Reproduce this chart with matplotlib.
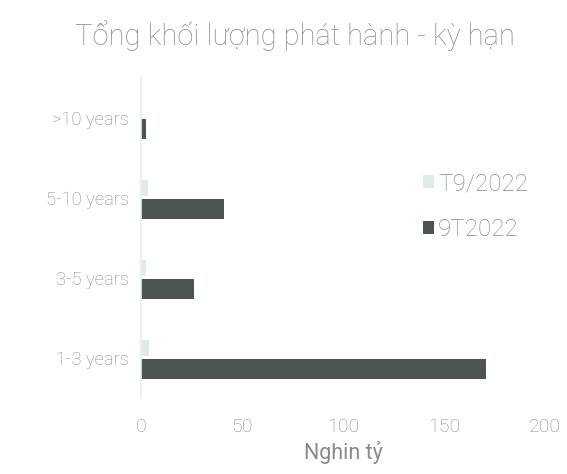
import matplotlib.pyplot as plt
import numpy as np

# Dữ liệu khối lượng phát hành theo kỳ hạn (nghìn tỷ)
ky_han = ["1-3 years", "3-5 years", "5-10 years", ">10 years"]
t9_2022 = [4, 2.5, 3.5, 0]
chin_t_2022 = [171, 26, 41, 2.5]

MAU_CHU = "#8a8a8a"
MAU_NHAT = "#dfeaea"
MAU_DAM = "#4c5455"

plt.rcParams["font.family"] = ["Roboto", "DejaVu Sans"]
plt.rcParams["font.weight"] = "light"

fig = plt.figure(figsize=(5.67, 4.74), dpi=100)
ax = fig.add_axes([0.249, 0.160, 0.712, 0.675])

y = np.arange(len(ky_han))
cao = 0.2
ax.barh(y + 0.13, t9_2022, height=cao, color=MAU_NHAT, label="T9/2022")
ax.barh(y - 0.13, chin_t_2022, height=cao + 0.05, color=MAU_DAM, label="9T2022")

ax.set_xlim(0, 200)
ax.set_ylim(-0.5, 3.5)
ax.set_xticks([0, 50, 100, 150, 200])
ax.set_yticks(y)
ax.set_yticklabels(ky_han)
ax.tick_params(axis="both", length=0, colors=MAU_CHU)
ax.tick_params(axis="x", pad=14, labelsize=14)
ax.tick_params(axis="y", pad=9, labelsize=13.2)

for s in ["top", "right", "bottom"]:
    ax.spines[s].set_visible(False)
ax.spines["left"].set_color("#ececec")
ax.spines["left"].set_linewidth(1.2)

ax.set_xlabel("Nghin tỷ", color=MAU_CHU, fontsize=15.5, labelpad=4)

fig.suptitle("Tổng khối lượng phát hành - kỳ hạn", x=0.52, y=0.958,
             color=MAU_CHU, fontsize=21, fontweight="light")

ax.legend(loc="upper left", bbox_to_anchor=(0.645, 0.775), frameon=False,
          fontsize=17.5, labelcolor=MAU_CHU, handlelength=0.45, handleheight=0.45,
          handletextpad=0.15, labelspacing=0.95)

fig.savefig("out.png", dpi=100)
